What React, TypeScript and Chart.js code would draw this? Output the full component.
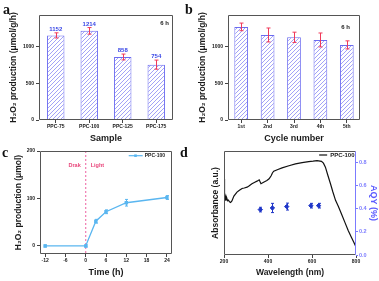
import React, { useEffect, useRef } from "react";
import { Chart, registerables } from "chart.js";
Chart.register(...registerables);

const FONT = "'Liberation Sans', Arial, Helvetica, sans-serif";

// ---- Panel a: samples ----
const sampleLabels = ["PPC-75", "PPC-100", "PPC-125", "PPC-175"];
const sampleRates = [1152, 1214, 858, 754];
const sampleErrors = [35, 45, 40, 62];
const rateTicks = [0, 500, 1000];

// ---- Panel b: cycles ----
const cycleLabels = ["1st", "2nd", "3rd", "4th", "5th"];
const cycleRates = [1268, 1158, 1126, 1090, 1023];
const cycleErrors = [52, 95, 70, 95, 55];

// ---- Panel c: time course ----
const timeHours = [-12, 0, 3, 6, 12, 24];
const h2o2Amount = [0, 0, 52, 72, 91, 102];
const h2o2Errors = [2, 2, 4, 4, 7, 4];
const timeTicks = [-12, -6, 0, 6, 12, 18, 24];
const amountTicks = [0, 100, 200];

// ---- Panel d: absorbance & AQY ----
const wavelengths = [200, 201, 202, 204, 205, 207, 209, 211, 213, 216, 220, 225, 230, 236, 245, 259, 270, 282, 292, 305, 315, 327, 340, 350, 360, 368, 380, 395, 405, 415, 420, 426, 445, 464, 495, 525, 555, 585, 605, 623, 643, 652, 661, 672, 684, 695, 707, 720, 735, 750, 765, 780, 790, 800];
const absorbance = [0.66, 0.58, 0.5, 0.49, 0.5, 0.47, 0.5, 0.48, 0.49, 0.47, 0.475, 0.46, 0.455, 0.467, 0.51, 0.544, 0.56, 0.576, 0.58, 0.587, 0.6, 0.617, 0.63, 0.639, 0.651, 0.617, 0.63, 0.645, 0.66, 0.688, 0.71, 0.725, 0.74, 0.754, 0.772, 0.789, 0.8, 0.808, 0.812, 0.817, 0.811, 0.795, 0.76, 0.69, 0.617, 0.545, 0.473, 0.42, 0.35, 0.28, 0.21, 0.15, 0.11, 0.07];
const aqyWavelengths = [365, 420, 485, 595, 630];
const aqyValues = [0.393, 0.407, 0.419, 0.427, 0.427];
const aqyErrors = [0.02, 0.04, 0.03, 0.02, 0.02];
const wlTicks = [200, 400, 600, 800];
const aqyTicks = [0, 0.2, 0.4, 0.6, 0.8];

const BAR_BORDER = "#6b6bf0";
const HATCH = "#a3a3f6";
const ERR_RED = "#f03a5a";
const LABEL_BLUE = "#3a48e6";
const LINE_BLUE = "#5ab6f0";
const PINK = "#e8457a";
const AQY_BLUE = "#1f36c8";
const AXIS_BLUE = "#7b7bff";
const FRAME = "#555";
const TXT = "#1a1a1a";

const errorBarPlugin = {
  id: "errorBars",
  afterDatasetsDraw(chart: any) {
    const ctx = chart.ctx;
    chart.data.datasets.forEach((ds: any, i: number) => {
      if (!ds.errors) return;
      const meta = chart.getDatasetMeta(i);
      const ys = chart.scales[meta.yAxisID];
      ctx.save();
      ctx.strokeStyle = ds.errorColor;
      ctx.lineWidth = ds.errorWidth ?? 1;
      meta.data.forEach((el: any, j: number) => {
        const raw = ds.data[j];
        const v = typeof raw === "number" ? raw : raw.y;
        const e = ds.errors[j];
        const x = Math.round(el.x) + 0.5;
        const y1 = ys.getPixelForValue(v - e);
        const y2 = ys.getPixelForValue(v + e);
        const cap = ds.errorCap ?? 2;
        ctx.beginPath();
        ctx.moveTo(x, y1);
        ctx.lineTo(x, y2);
        ctx.moveTo(x - cap, y1);
        ctx.lineTo(x + cap, y1);
        ctx.moveTo(x - cap, y2);
        ctx.lineTo(x + cap, y2);
        ctx.stroke();
      });
      ctx.restore();
    });
  },
};

const framePlugin = {
  id: "frame",
  afterDatasetsDraw(chart: any, _a: any, opts: any) {
    const { left, right, top, bottom } = chart.chartArea;
    const ctx = chart.ctx;
    const l = Math.round(left) + 0.5, r = Math.round(right) - 0.5;
    const t = Math.round(top) + 0.5, b = Math.round(bottom) - 0.5;
    ctx.save();
    ctx.lineWidth = 1;
    ctx.strokeStyle = opts.color || FRAME;
    ctx.beginPath();
    ctx.moveTo(r, t); ctx.lineTo(l, t); ctx.lineTo(l, b); ctx.lineTo(r, b);
    ctx.stroke();
    ctx.strokeStyle = opts.rightColor || opts.color || FRAME;
    ctx.beginPath();
    ctx.moveTo(r, t); ctx.lineTo(r, b);
    ctx.stroke();
    ctx.restore();
  },
};

function tickGrid(color = "#444") {
  return { display: true, drawOnChartArea: false, drawTicks: true, tickLength: 3, color, offset: false };
}
const tickFont = { family: FONT, size: 5, weight: "bold" as const };
const titleFont = (size: number) => ({ family: FONT, size, weight: "bold" as const });
const plainNum = (v: any) => String(v);

function textPlugin(id: string, draw: (chart: any, ctx: CanvasRenderingContext2D) => void) {
  return {
    id,
    afterDraw(chart: any) {
      const ctx = chart.ctx;
      ctx.save();
      draw(chart, ctx);
      ctx.restore();
    },
  };
}

function makeHatch(ctxMain: CanvasRenderingContext2D) {
  const tile = document.createElement("canvas");
  tile.width = 4;
  tile.height = 4;
  const t = tile.getContext("2d")!;
  t.fillStyle = "#ffffff";
  t.fillRect(0, 0, 4, 4);
  t.strokeStyle = HATCH;
  t.lineWidth = 1;
  t.beginPath();
  t.moveTo(0, 4); t.lineTo(4, 0);
  t.moveTo(-1, 1); t.lineTo(1, -1);
  t.moveTo(3, 5); t.lineTo(5, 3);
  t.stroke();
  return ctxMain.createPattern(tile, "repeat")!;
}

function barConfig(labels: string[], values: number[], errors: number[], xTitle: string, padRight: number, pattern: any, extra: any[]) {
  return {
    type: "bar",
    data: {
      labels,
      datasets: [
        {
          data: values,
          backgroundColor: pattern,
          borderColor: BAR_BORDER,
          borderWidth: 1,
          barPercentage: 0.52,
          categoryPercentage: 1,
          errors,
          errorColor: ERR_RED,
          errorCap: 2,
        },
      ],
    },
    options: {
      responsive: false,
      animation: false,
      devicePixelRatio: 1,
      layout: { padding: { top: 15, right: padRight, left: 0, bottom: 0 } },
      plugins: { legend: { display: false }, tooltip: { enabled: false }, frame: { color: FRAME } },
      scales: {
        x: {
          grid: tickGrid(),
          border: { display: false },
          ticks: { font: tickFont, color: TXT, padding: 1, maxRotation: 0, autoSkip: false },
          title: { display: true, text: xTitle, font: titleFont(9), color: TXT, padding: { top: 0, bottom: 6 } },
          afterFit: (s: any) => { s.height = 30; },
        },
        y: {
          min: 0,
          max: 1430,
          afterBuildTicks: (s: any) => { s.ticks = rateTicks.map((v) => ({ value: v })); },
          grid: tickGrid(),
          border: { display: false },
          ticks: { font: tickFont, color: TXT, padding: 2, callback: plainNum },
          title: { display: true, text: "H₂O₂ production (μmol/g/h)", font: titleFont(8.5), color: TXT, padding: { top: 9, bottom: 0 } },
          afterFit: (s: any) => { s.width = 39; },
        },
      },
    },
    plugins: [errorBarPlugin, framePlugin, ...extra],
  };
}

export default function App() {
  const refA = useRef<HTMLCanvasElement>(null);
  const refB = useRef<HTMLCanvasElement>(null);
  const refC = useRef<HTMLCanvasElement>(null);
  const refD = useRef<HTMLCanvasElement>(null);

  useEffect(() => {
    const charts: Chart[] = [];
    const patA = makeHatch(refA.current!.getContext("2d")!);
    const patB = makeHatch(refB.current!.getContext("2d")!);

    const valueLabels = textPlugin("valueLabels", (chart, ctx) => {
      const meta = chart.getDatasetMeta(0);
      const ys = chart.scales.y;
      ctx.font = `bold 6px ${FONT}`;
      ctx.fillStyle = LABEL_BLUE;
      ctx.textAlign = "center";
      ctx.textBaseline = "bottom";
      meta.data.forEach((el: any, j: number) => {
        const y = ys.getPixelForValue(sampleRates[j] + sampleErrors[j]) - 0.5;
        ctx.fillText(String(sampleRates[j]), el.x, y);
      });
    });
    const sixHA = textPlugin("sixHA", (chart, ctx) => {
      const { right, top } = chart.chartArea;
      ctx.font = `bold 6px ${FONT}`;
      ctx.fillStyle = TXT;
      ctx.textAlign = "right";
      ctx.textBaseline = "middle";
      ctx.fillText("6 h", right - 4, top + 8);
    });
    const sixHB = textPlugin("sixHB", (chart, ctx) => {
      const { right, top } = chart.chartArea;
      ctx.font = `bold 6px ${FONT}`;
      ctx.fillStyle = TXT;
      ctx.textAlign = "right";
      ctx.textBaseline = "middle";
      ctx.fillText("6 h", right - 10, top + 12);
    });

    charts.push(new Chart(refA.current!, barConfig(sampleLabels, sampleRates, sampleErrors, "Sample", 16, patA, [valueLabels, sixHA]) as any));
    charts.push(new Chart(refB.current!, barConfig(cycleLabels, cycleRates, cycleErrors, "Cycle number", 19, patB, [sixHB]) as any));

    // Panel c
    const darkLight = {
      id: "darkLight",
      beforeDatasetsDraw(chart: any) {
        const ctx = chart.ctx;
        const { top, bottom } = chart.chartArea;
        const x0 = chart.scales.x.getPixelForValue(0);
        ctx.save();
        ctx.strokeStyle = "#f07ab0";
        ctx.lineWidth = 1.2;
        ctx.setLineDash([2, 2]);
        ctx.beginPath();
        ctx.moveTo(x0, top);
        ctx.lineTo(x0, bottom);
        ctx.stroke();
        ctx.setLineDash([]);
        ctx.font = `bold 5.5px ${FONT}`;
        ctx.fillStyle = PINK;
        ctx.textBaseline = "middle";
        ctx.textAlign = "right";
        ctx.fillText("Drak", x0 - 5, top + 14.7);
        ctx.textAlign = "left";
        ctx.fillText("Light", x0 + 5, top + 14.7);
        ctx.restore();
      },
    };
    const legendC = textPlugin("legendC", (chart, ctx) => {
      const { right, top } = chart.chartArea;
      ctx.font = `bold 5px ${FONT}`;
      const txt = "PPC-100";
      const w = ctx.measureText(txt).width;
      const tx = right - 7 - w;
      const y = top + 4.7;
      ctx.fillStyle = TXT;
      ctx.textAlign = "left";
      ctx.textBaseline = "middle";
      ctx.fillText(txt, tx, y);
      ctx.strokeStyle = LINE_BLUE;
      ctx.lineWidth = 1.2;
      ctx.beginPath();
      ctx.moveTo(tx - 16, y);
      ctx.lineTo(tx - 2, y);
      ctx.stroke();
      ctx.fillStyle = LINE_BLUE;
      ctx.fillRect(tx - 10.5, y - 1.3, 2.6, 2.6);
    });

    charts.push(
      new Chart(refC.current!, {
        type: "line",
        data: {
          datasets: [
            {
              data: timeHours.map((t, i) => ({ x: t, y: h2o2Amount[i] })),
              borderColor: LINE_BLUE,
              backgroundColor: LINE_BLUE,
              borderWidth: 1.3,
              pointStyle: "rect",
              pointRadius: 1.5,
              errors: h2o2Errors,
              errorColor: LINE_BLUE,
              errorCap: 1.5,
            } as any,
          ],
        },
        options: {
          responsive: false,
          animation: false,
          devicePixelRatio: 1,
          layout: { padding: { top: 11, right: 17, left: 0, bottom: 0 } },
          plugins: { legend: { display: false }, tooltip: { enabled: false }, frame: { color: FRAME } } as any,
          scales: {
            x: {
              type: "linear",
              min: -13.5,
              max: 25.5,
              afterBuildTicks: (s: any) => { s.ticks = timeTicks.map((v) => ({ value: v })); },
              grid: tickGrid() as any,
              border: { display: false },
              ticks: { font: tickFont, color: TXT, padding: 1, maxRotation: 0, callback: plainNum },
              title: { display: true, text: "Time (h)", font: titleFont(9), color: TXT, padding: { top: 0, bottom: 3 } },
              afterFit: (s: any) => { s.height = 27; },
            },
            y: {
              min: -17,
              max: 200,
              afterBuildTicks: (s: any) => { s.ticks = amountTicks.map((v) => ({ value: v })); },
              grid: tickGrid() as any,
              border: { display: false },
              ticks: { font: tickFont, color: TXT, padding: 2, callback: plainNum },
              title: { display: true, text: "H₂O₂ production (μmol)", font: titleFont(8.5), color: TXT, padding: { top: 14, bottom: 0 } },
              afterFit: (s: any) => { s.width = 40; },
            },
          },
        },
        plugins: [darkLight, errorBarPlugin, framePlugin, legendC],
      } as any)
    );

    // Panel d
    const legendD = textPlugin("legendD", (chart, ctx) => {
      const { right, top } = chart.chartArea;
      ctx.font = `bold 6px ${FONT}`;
      const txt = "PPC-100";
      const w = ctx.measureText(txt).width;
      const tx = right - 1.5 - w;
      const y = top + 4;
      ctx.fillStyle = TXT;
      ctx.textAlign = "left";
      ctx.textBaseline = "middle";
      ctx.fillText(txt, tx, y);
      ctx.strokeStyle = "#111";
      ctx.lineWidth = 1.2;
      ctx.beginPath();
      ctx.moveTo(tx - 11, y);
      ctx.lineTo(tx - 3, y);
      ctx.stroke();
    });

    charts.push(
      new Chart(refD.current!, {
        type: "scatter",
        data: {
          datasets: [
            {
              type: "line",
              data: wavelengths.map((w, i) => ({ x: w, y: absorbance[i] })),
              borderColor: "#111",
              borderWidth: 1.2,
              pointRadius: 0,
              yAxisID: "yL",
              tension: 0,
            },
            {
              type: "scatter",
              data: aqyWavelengths.map((w, i) => ({ x: w, y: aqyValues[i] })),
              backgroundColor: AQY_BLUE,
              borderColor: AQY_BLUE,
              pointStyle: "rectRot",
              pointRadius: 2.2,
              yAxisID: "yR",
              errors: aqyErrors,
              errorColor: AQY_BLUE,
              errorCap: 1.5,
            } as any,
          ],
        },
        options: {
          responsive: false,
          animation: false,
          devicePixelRatio: 1,
          layout: { padding: { top: 11, right: 0, left: 0, bottom: 0 } },
          plugins: { legend: { display: false }, tooltip: { enabled: false }, frame: { color: FRAME, rightColor: AXIS_BLUE } } as any,
          scales: {
            x: {
              type: "linear",
              min: 200,
              max: 800,
              afterBuildTicks: (s: any) => { s.ticks = wlTicks.map((v) => ({ value: v })); },
              grid: tickGrid() as any,
              border: { display: false },
              ticks: { font: tickFont, color: TXT, padding: 1, maxRotation: 0, callback: plainNum },
              title: { display: true, text: "Wavelength (nm)", font: titleFont(8.5), color: TXT, padding: { top: 0, bottom: 3 } },
              afterFit: (s: any) => { s.height = 26; },
            },
            yL: {
              position: "left",
              min: 0,
              max: 0.9,
              grid: { display: false },
              border: { display: false },
              ticks: { display: false },
              title: { display: true, text: "Absorbance (a.u.)", font: titleFont(8.5), color: TXT, padding: { top: 22, bottom: 0 } },
              afterFit: (s: any) => { s.width = 35; },
            },
            yR: {
              position: "right",
              min: 0,
              max: 0.9,
              afterBuildTicks: (s: any) => { s.ticks = aqyTicks.map((v) => ({ value: v })); },
              grid: { display: true, drawOnChartArea: false, drawTicks: true, tickLength: 2, color: AXIS_BLUE },
              border: { display: false },
              ticks: { font: { family: FONT, size: 5.5, weight: "bold" }, color: AXIS_BLUE, padding: 1, callback: (v: any) => Number(v).toFixed(1) },
              title: { display: true, text: "AQY (%)", font: titleFont(9), color: "#5a5aff", padding: { top: 0, bottom: 0 } },
              afterFit: (s: any) => { s.width = 23; },
            },
          },
        },
        plugins: [errorBarPlugin, framePlugin, legendD],
      } as any)
    );

    return () => charts.forEach((c) => c.destroy());
  }, []);

  const letter = (ch: string, left: number, top: number) => (
    <div
      style={{
        position: "absolute",
        left,
        top,
        font: "bold 14px 'Liberation Serif', 'DejaVu Serif', serif",
        lineHeight: "14px",
        color: "#111",
      }}
    >
      {ch}
    </div>
  );

  return (
    <div style={{ position: "absolute", left: 0, top: 0, width: 379, height: 281, background: "#fff", overflow: "hidden" }}>
      <canvas ref={refA} width={189} height={150} style={{ position: "absolute", left: 0, top: 0 }} />
      <canvas ref={refB} width={190} height={150} style={{ position: "absolute", left: 189, top: 0 }} />
      <canvas ref={refC} width={189} height={141} style={{ position: "absolute", left: 0, top: 140 }} />
      <canvas ref={refD} width={190} height={141} style={{ position: "absolute", left: 189, top: 140 }} />
      {letter("a", 3, 3)}
      {letter("b", 185, 3)}
      {letter("c", 2, 146)}
      {letter("d", 180, 146)}
    </div>
  );
}
